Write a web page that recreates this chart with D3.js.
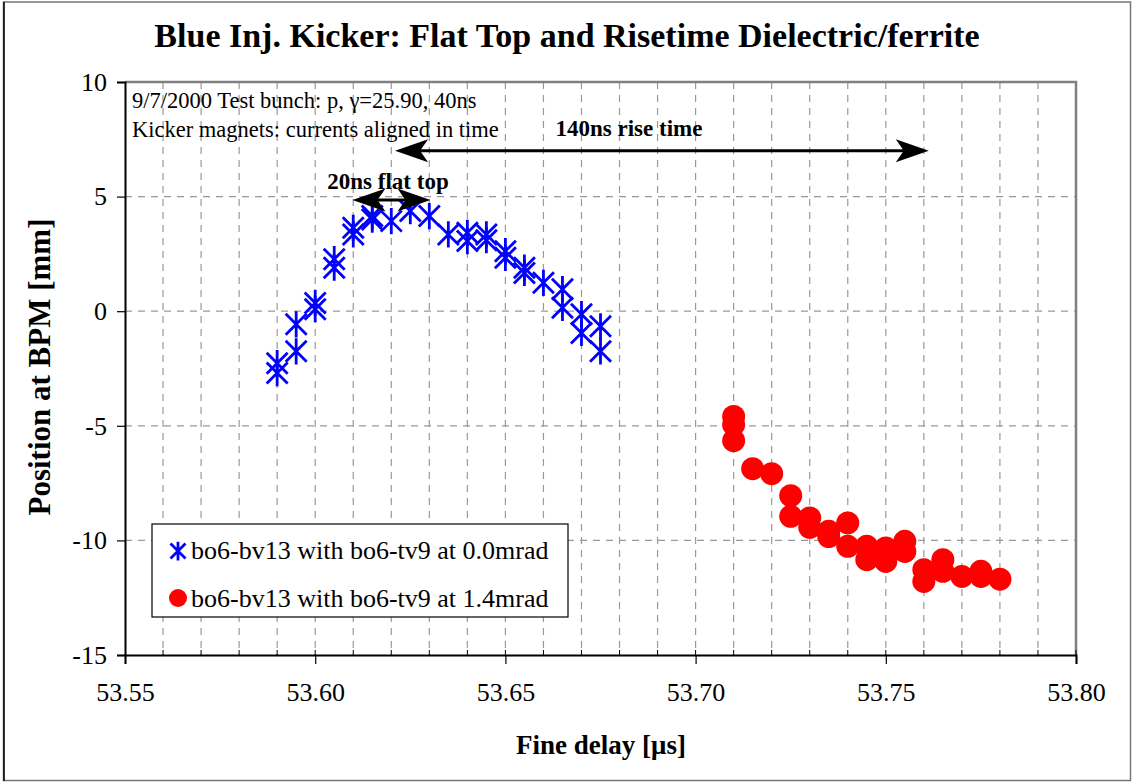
<!DOCTYPE html>
<html>
<head>
<meta charset="utf-8">
<script src="https://cdn.jsdelivr.net/npm/d3@7"></script>
<style>
  body { margin: 0; background: #fff; }
  svg { display: block; }
  svg text { font-family: "Liberation Serif", "Times New Roman", serif; }
</style>
</head>
<body>
<svg id="chart" width="1133" height="782"></svg>
<script>
// data
const blueX = [53.59,53.59,53.595,53.595,53.60,53.60,53.605,53.605,53.61,53.61,53.615,53.615,53.62,53.625,53.63,53.635,53.64,53.64,53.645,53.645,53.65,53.65,53.655,53.655,53.66,53.665,53.665,53.67,53.67,53.675,53.675]
const blueY = [-2.27,-2.7,-0.57,-1.75,0.36,0.09,2.27,1.9,3.64,3.35,4.15,4.0,3.93,4.37,4.15,3.35,3.42,3.06,3.35,3.1,2.62,2.33,1.9,1.67,1.24,0.96,0.15,-0.13,-0.95,-0.66,-1.75]
const redX = [53.71,53.71,53.71,53.715,53.72,53.725,53.725,53.73,53.73,53.735,53.735,53.74,53.74,53.745,53.745,53.75,53.75,53.755,53.755,53.76,53.76,53.765,53.765,53.77,53.775,53.775,53.78]
const redY = [-4.59,-4.95,-5.65,-6.87,-7.09,-8.05,-8.95,-9.02,-9.43,-9.6,-9.83,-9.24,-10.26,-10.26,-10.84,-10.33,-10.92,-10.04,-10.48,-11.28,-11.79,-10.84,-11.35,-11.57,-11.35,-11.57,-11.69]
const xTicks = [53.55,53.60,53.65,53.70,53.75,53.80]
const yTicks = [-15,-10,-5,0,5,10]
const xGrid = d3.range(56,81).map(i=>i/100+53)
const seriesNames = ['bo6-bv13 with bo6-tv9 at 0.0mrad','bo6-bv13 with bo6-tv9 at 1.4mrad']

const svg = d3.select('#chart')
const W = 1133, H = 782
const L = 125, R = 1076, T = 82, B = 655
const x = d3.scaleLinear().domain([53.55,53.80]).range([L,R])
const y = d3.scaleLinear().domain([-15,10]).range([B,T])
const SERIF = '"Liberation Serif", "Times New Roman", serif'

// outer frame
svg.append('rect').attr('x',3.5).attr('y',2).attr('width',W-6).attr('height',H-3.5)
  .attr('fill','none').attr('stroke','#777').attr('stroke-width',1.5)
svg.append('line').attr('x1',4).attr('x2',4).attr('y1',2).attr('y2',H-1).attr('stroke','#000').attr('stroke-width',1.5)

// grid
const grid = svg.append('g').attr('stroke','#999').attr('stroke-width',1.2).attr('stroke-dasharray','7,6')
grid.selectAll('.vg').data(xGrid).join('line').attr('class','vg')
  .attr('x1',d=>x(d)).attr('x2',d=>x(d)).attr('y1',T).attr('y2',B)
grid.selectAll('.hg').data(yTicks.slice(1,-1)).join('line').attr('class','hg')
  .attr('x1',L).attr('x2',R).attr('y1',d=>y(d)).attr('y2',d=>y(d))

// plot border top/right
svg.append('path').attr('d',`M${L},${T}H${R}V${B}`).attr('fill','none').attr('stroke','#808080').attr('stroke-width',2.5)

// axes
const xAxis = d3.axisBottom(x).tickValues(xTicks).tickFormat(d3.format('.2f')).tickSize(9).tickPadding(19)
const gx = svg.append('g').attr('transform',`translate(0,${B})`).call(xAxis)
gx.select('.domain').attr('stroke','#000').attr('stroke-width',2)
gx.selectAll('.tick line').attr('stroke','#000').attr('stroke-width',1.2)
gx.selectAll('text').style('font-family',SERIF).style('font-size','26px').attr('fill','#000')
svg.append('g').selectAll('line').data(xGrid).join('line')
  .attr('x1',d=>x(d)).attr('x2',d=>x(d)).attr('y1',B-5).attr('y2',B).attr('stroke','#000').attr('stroke-width',1)

const yAxis = d3.axisLeft(y).tickValues(yTicks).tickFormat(d=>String(d)).tickSize(8).tickPadding(10)
const gy = svg.append('g').attr('transform',`translate(${L},0)`).call(yAxis)
gy.select('.domain').attr('stroke','#000').attr('stroke-width',2)
gy.selectAll('.tick line').attr('stroke','#000').attr('stroke-width',1.2)
gy.selectAll('text').style('font-family',SERIF).style('font-size','26px').attr('fill','#000')

// title and axis titles
svg.append('text').attr('x',567).attr('y',47).attr('text-anchor','middle')
  .attr('font-size',34).attr('font-weight','bold').text('Blue Inj. Kicker: Flat Top and Risetime Dielectric/ferrite')
svg.append('text').attr('x',601).attr('y',754).attr('text-anchor','middle')
  .attr('font-size',27).attr('font-weight','bold').text('Fine delay [μs]')
svg.append('text').attr('transform','translate(50,367) rotate(-90)').attr('text-anchor','middle')
  .attr('font-size',31).attr('font-weight','bold').text('Position at BPM [mm]')

// note text
svg.append('text').attr('x',132).attr('y',108).attr('font-size',22.5).text('9/7/2000 Test bunch: p, γ=25.90, 40ns')
svg.append('text').attr('x',132).attr('y',137).attr('font-size',22.5).text('Kicker magnets: currents aligned in time')

// markers
const star = (g,s)=>g.append('path')
  .attr('d',`M${-s},${-s}L${s},${s}M${-s},${s}L${s},${-s}M0,${-s*1.25}V${s*1.25}`)
  .attr('stroke','#0000ff').attr('stroke-width',2.8).attr('fill','none')
const blue = svg.append('g')
blueX.forEach((d,i)=>{
  const g = blue.append('g').attr('transform',`translate(${x(d)},${y(blueY[i])})`)
  star(g,10.5)
})
svg.append('g').selectAll('circle').data(redX).join('circle')
  .attr('cx',d=>x(d)).attr('cy',(d,i)=>y(redY[i])).attr('r',11.5).attr('fill','#ff0000')

// arrows
function arrowHead(px,py,dir){
  const Lh = 33, Wh = 11.5, N = 25
  return `M${px},${py}L${px-dir*Lh},${py-Wh}L${px-dir*N},${py}L${px-dir*Lh},${py+Wh}Z`
}
function dblArrow(x1,x2,yv){
  const g = svg.append('g')
  g.append('line').attr('x1',x(x1)+20).attr('x2',x(x2)-20).attr('y1',y(yv)).attr('y2',y(yv))
    .attr('stroke','#000').attr('stroke-width',3)
  g.append('path').attr('d',arrowHead(x(x1),y(yv),-1)).attr('fill','#000')
  g.append('path').attr('d',arrowHead(x(x2),y(yv),1)).attr('fill','#000')
}
dblArrow(53.621,53.7613,7.0)
dblArrow(53.6098,53.6303,4.85)
svg.append('text').attr('x',629).attr('y',136).attr('text-anchor','middle')
  .attr('font-size',23).attr('font-weight','bold').text('140ns rise time')
svg.append('text').attr('x',388).attr('y',189).attr('text-anchor','middle')
  .attr('font-size',23).attr('font-weight','bold').text('20ns flat top')

// legend
const lg = svg.append('g').attr('transform','translate(152,524)')
lg.append('rect').attr('width',416).attr('height',93).attr('fill','#fff').attr('stroke','#000').attr('stroke-width',1.2)
const e1 = lg.append('g').attr('transform','translate(26,27)')
star(e1,7.5)
lg.append('text').attr('x',39).attr('y',35).attr('font-size',26).text(seriesNames[0])
lg.append('circle').attr('cx',26).attr('cy',74).attr('r',9).attr('fill','#ff0000')
lg.append('text').attr('x',39).attr('y',83).attr('font-size',26).text(seriesNames[1])
</script>
</body>
</html>
